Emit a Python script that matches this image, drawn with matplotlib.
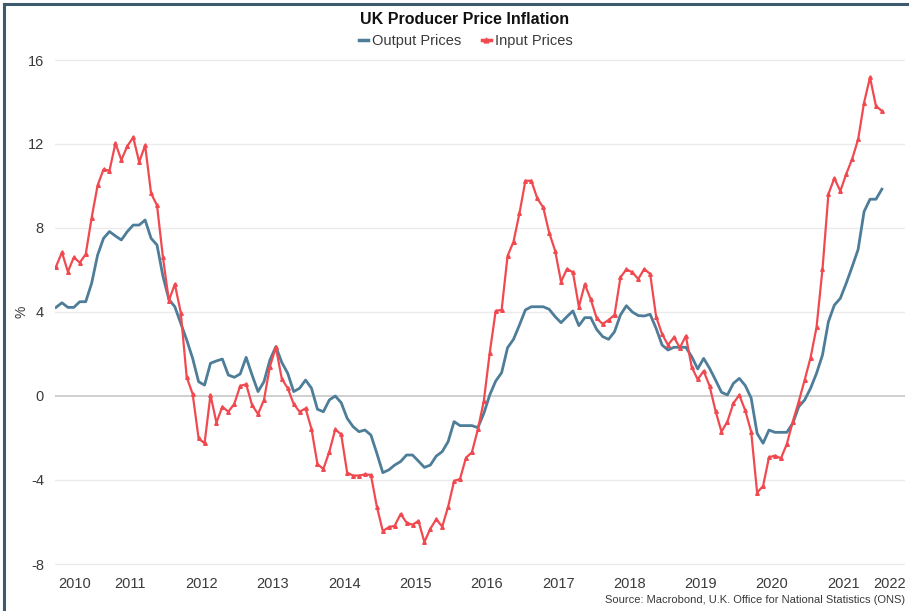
import matplotlib
matplotlib.use("Agg")
import matplotlib.pyplot as plt
from matplotlib.lines import Line2D
import numpy as np

# Monthly data, Jun 2010 .. Jan 2022
start_year, start_month = 2010, 6

output_prices = [
    4.22, 4.44, 4.22, 4.22, 4.49, 4.49, 5.37, 6.71, 7.51, 7.83,
    7.62, 7.43, 7.83, 8.14, 8.14, 8.38, 7.51, 7.19, 5.70, 4.60,
    4.25, 3.46, 2.67, 1.79, 0.68, 0.52, 1.56, 1.67, 1.76, 1.00,
    0.89, 1.05, 1.84, 1.00, 0.21, 0.68, 1.71, 2.35, 1.60, 1.08,
    0.21, 0.37, 0.76, 0.37, -0.63, -0.75, -0.19, 0.00, -0.32, -1.06,
    -1.46, -1.70, -1.62, -1.86, -2.73, -3.65, -3.52, -3.29, -3.12, -2.81,
    -2.81, -3.10, -3.40, -3.29, -2.86, -2.65, -2.17, -1.22, -1.41, -1.41,
    -1.41, -1.51, -0.83, 0.05, 0.71, 1.11, 2.30, 2.70, 3.38, 4.10,
    4.25, 4.25, 4.25, 4.13, 3.78, 3.49, 3.78, 4.05, 3.35, 3.73,
    3.73, 3.17, 2.83, 2.70, 3.06, 3.86, 4.30, 4.00, 3.83, 3.81,
    3.89, 3.22, 2.43, 2.19, 2.32, 2.32, 2.32, 1.87, 1.29, 1.79,
    1.32, 0.76, 0.18, 0.05, 0.60, 0.84, 0.50, -0.10, -1.78, -2.25,
    -1.62, -1.73, -1.73, -1.73, -1.30, -0.51, -0.19, 0.37, 1.08, 1.95,
    3.54, 4.33, 4.65, 5.37, 6.16, 6.98, 8.78, 9.37, 9.37, 9.85,
]

input_prices = [
    6.16, 6.84, 5.92, 6.60, 6.35, 6.75, 8.49, 10.03, 10.79, 10.73,
    12.03, 11.24, 11.90, 12.32, 11.14, 11.94, 9.65, 9.08, 6.60, 4.54,
    5.33, 3.97, 0.89, 0.10, -2.02, -2.25, 0.05, -1.27, -0.51, -0.75,
    -0.38, 0.48, 0.56, -0.43, -0.86, -0.19, 1.40, 2.32, 0.82, 0.37,
    -0.38, -0.75, -0.59, -1.57, -3.24, -3.48, -2.65, -1.59, -1.83, -3.65,
    -3.79, -3.79, -3.73, -3.76, -5.27, -6.43, -6.25, -6.18, -5.62, -6.03,
    -6.13, -5.95, -6.95, -6.32, -5.87, -6.22, -5.27, -4.05, -3.95, -2.94,
    -2.68, -1.59, -0.24, 2.06, 4.05, 4.10, 6.67, 7.35, 8.70, 10.25,
    10.25, 9.41, 8.98, 7.78, 6.92, 5.44, 6.05, 5.89, 4.25, 5.32,
    4.60, 3.70, 3.43, 3.62, 3.86, 5.65, 6.03, 5.89, 5.57, 6.05,
    5.81, 3.78, 2.95, 2.43, 2.79, 2.30, 2.86, 1.37, 0.79, 1.19,
    0.48, -0.71, -1.70, -1.22, -0.35, 0.05, -0.69, -1.70, -4.60, -4.29,
    -2.92, -2.84, -2.97, -2.29, -1.22, -0.27, 0.76, 1.83, 3.27, 6.03,
    9.62, 10.37, 9.76, 10.57, 11.29, 12.22, 13.97, 15.17, 13.81, 13.57,
]

year_labels = ["2010", "2011", "2012", "2013", "2014", "2015", "2016",
               "2017", "2018", "2019", "2020", "2021", "2022"]
y_ticks = [-8, -4, 0, 4, 8, 12, 16]

title = "UK Producer Price Inflation"
source = "Source: Macrobond, U.K. Office for National Statistics (ONS)"

n = len(input_prices)
t = start_year + (start_month - 1) / 12 + np.arange(n) / 12.0

RED = "#f04a50"
BLUE = "#4d7d98"
TXT = "#3a3a3a"

plt.rcParams['font.family'] = ['Liberation Sans', 'DejaVu Sans']

W, H = 909, 611
fig = plt.figure(figsize=(W / 100, H / 100), dpi=100)
fig.patch.set_facecolor("white")

ax_left, ax_right = 55, 905
ax_top, ax_bot = 55.8, 570.3
ax = fig.add_axes([ax_left / W, 1 - ax_bot / H, (ax_right - ax_left) / W, (ax_bot - ax_top) / H])

px_per_year = 71.3
x0 = t[0] - (56 - ax_left) / px_per_year
x1 = x0 + (ax_right - ax_left) / px_per_year
ax.set_xlim(x0, x1)
ax.set_ylim(-8.3, 16.2)

for v in y_ticks:
    ax.axhline(v, color="#cfcfcf" if v == 0 else "#ebebeb", lw=1.4 if v == 0 else 1.0, zorder=0)

ax.plot(t, output_prices, color=BLUE, lw=2.0, zorder=3, solid_joinstyle="round")
ax.plot(t, input_prices, color=RED, lw=1.6, marker="^", ms=2.6, zorder=4,
        solid_joinstyle="round")

for s in ax.spines.values():
    s.set_visible(False)

ax.set_yticks(y_ticks)
ax.set_yticklabels([str(v) for v in y_ticks], fontsize=10.5, color=TXT)
ax.tick_params(axis="y", length=0, pad=8)

# year labels centred in each calendar year; end labels kept inside the plot
tick_pos = [int(y) + 0.46 for y in year_labels]
tick_pos[0] = x0 + (75 - ax_left) / px_per_year
tick_pos[-1] = x0 + (890 - ax_left) / px_per_year
ax.set_xticks(tick_pos)
ax.set_xticklabels(year_labels, fontsize=10.5, color=TXT)
ax.tick_params(axis="x", length=0, pad=5)

fig.text(22 / W, 1 - 312 / H, "%", rotation=90, ha="center", va="center", fontsize=10, color=TXT)

fig.text(465 / W, 1 - 20 / H, title, ha="center", va="center", fontsize=11.5,
         fontweight="bold", color="#111111")

handles = [Line2D([], [], color=BLUE, lw=2.5),
           Line2D([], [], color=RED, lw=2.5, marker="^", ms=3.5)]
fig.legend(handles, ["Output Prices", "Input Prices"], loc="center",
           bbox_to_anchor=(466 / W, 1 - 41 / H), ncol=2, frameon=False,
           fontsize=10.5, handlelength=0.6, handletextpad=0.3, columnspacing=1.4,
           labelcolor=TXT)

fig.text(905 / W, 1 - 600 / H, source, ha="right", va="center", fontsize=8, color=TXT)

# frame (left and top edges visible)
fig.add_artist(Line2D([4 / W, 4 / W], [0, 1 - 4 / H], color="#3e5b6e", lw=2.2))
fig.add_artist(Line2D([4 / W, 1], [1 - 4 / H, 1 - 4 / H], color="#3e5b6e", lw=2.2))

fig.savefig("out.png", dpi=100)
